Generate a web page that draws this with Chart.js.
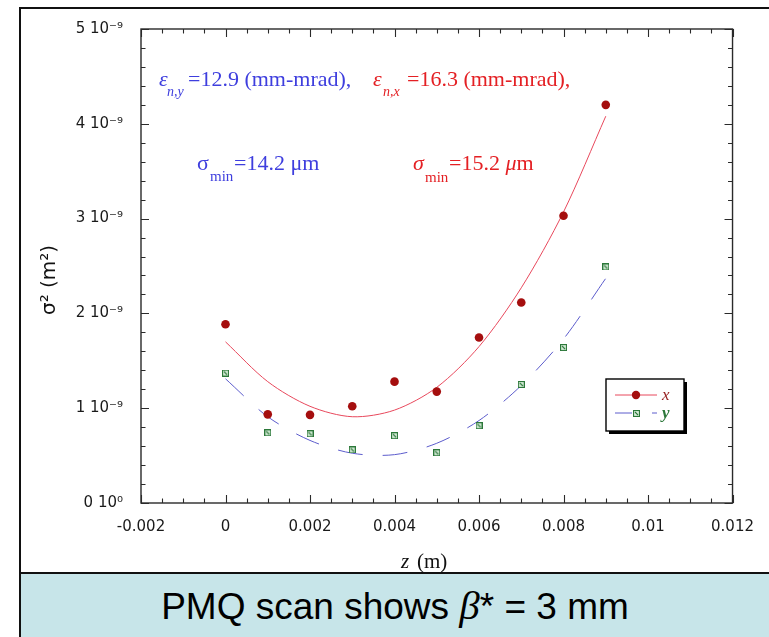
<!DOCTYPE html>
<html>
<head>
<meta charset="utf-8">
<title>PMQ scan</title>
<script src="https://cdn.jsdelivr.net/npm/chart.js@4.4.1/dist/chart.umd.min.js"></script>
<style>
  html, body { margin: 0; padding: 0; background: #fff; }
  body { width: 769px; height: 637px; position: relative; overflow: hidden; }
  #frame {
    position: absolute; left: 19px; top: 7px; width: 750px; height: 630px;
    border-top: 2px solid #111; border-left: 2px solid #111; box-sizing: border-box;
  }
  #plot { position: absolute; left: 0; top: 0; }
  #banner {
    position: absolute; left: 19px; top: 572px; width: 750px; height: 65px;
    box-sizing: border-box; border-top: 2px solid #111; border-left: 2px solid #111;
    background: #c7e5e9; color: #000;
    font-family: "Liberation Sans", Arial, sans-serif; font-size: 37px;
    text-align: center; line-height: 62px; white-space: nowrap;
  }
  #banner i { font-family: "Liberation Serif", serif; font-size: 41px; }
</style>
</head>
<body>
<div id="frame"></div>
<canvas id="plot" width="769" height="572"></canvas>
<div id="banner">PMQ scan shows <i>β</i>* = 3 mm</div>

<script>
'use strict';

//********************* Data (sigma^2 in units of 1e-9 m^2) *********************/

let zPos = [0, 0.001, 0.002, 0.003, 0.004, 0.005, 0.006, 0.007, 0.008, 0.009];
let sigmaSqX = [1.885, 0.935, 0.93, 1.02, 1.28, 1.175, 1.745, 2.115, 3.03, 4.20];
let sigmaSqY = [1.37, 0.74, 0.73, 0.56, 0.71, 0.53, 0.815, 1.25, 1.64, 2.49];

// fitted envelopes
let fitSqX = [1.70, 1.28, 1.02, 0.91, 0.98, 1.22, 1.65, 2.27, 3.07, 4.08];
let fitSqY = [1.31, 0.91, 0.66, 0.525, 0.51, 0.63, 0.87, 1.24, 1.73, 2.37];

let xTicks = [-0.002, 0, 0.002, 0.004, 0.006, 0.008, 0.01, 0.012];
let xTickLabels = ['-0.002', '0', '0.002', '0.004', '0.006', '0.008', '0.01', '0.012'];
let yTicks = [0, 1, 2, 3, 4, 5];
let yTickLabels = ['0 10\u2070', '1 10\u207B\u2079', '2 10\u207B\u2079', '3 10\u207B\u2079', '4 10\u207B\u2079', '5 10\u207B\u2079'];

//********************* Styles *********************/

const BLUE = 'rgb(62, 62, 222)';
const RED = 'rgb(228, 32, 36)';
const DOT_RED = 'rgb(165, 14, 14)';
const FIT_RED = 'rgb(232, 72, 92)';
const FIT_BLUE = 'rgb(92, 92, 204)';
const GREEN = 'rgb(44, 120, 58)';
const AXIS = '#2a2a2a';
const TICK_FONT = { family: '"DejaVu Sans", sans-serif', size: 15 };

function toPoints(xs, ys) {
  return xs.map((x, i) => ({ x: x, y: ys[i] }));
}

// small open square with a slash, used for the y points
function squareMarker() {
  let c = document.createElement('canvas');
  c.width = 7;
  c.height = 7;
  let g = c.getContext('2d');
  g.fillStyle = '#d9eedb';
  g.fillRect(0, 0, 7, 7);
  g.strokeStyle = GREEN;
  g.lineWidth = 1.1;
  g.strokeRect(0.55, 0.55, 5.9, 5.9);
  g.beginPath();
  g.moveTo(2, 2);
  g.lineTo(5, 5);
  g.stroke();
  return c;
}
let sqMarker = squareMarker();

//********************* Drawing helpers *********************/

function drawParts(ctx, parts) {
  for (let p of parts) {
    ctx.font = p.font;
    ctx.fillStyle = p.color;
    ctx.fillText(p.text, p.x, p.y);
  }
}

const serif = '"Liberation Serif", "Times New Roman", serif';

// ticks pointing inward on all four sides plus the box
const axisBox = {
  id: 'axisBox',
  afterDatasetsDraw(chart) {
    let { ctx, chartArea: a, scales } = chart;
    let xs = scales.x, ys = scales.y;
    ctx.save();
    ctx.strokeStyle = AXIS;
    ctx.lineWidth = 1.4;
    ctx.strokeRect(a.left, a.top, a.right - a.left, a.bottom - a.top);

    ctx.lineWidth = 1.1;
    ctx.beginPath();
    for (let i = 0; i <= 28; i++) {
      let v = -0.002 + i * 0.0005;
      let px = Math.round(xs.getPixelForValue(v)) + 0.5;
      let len = i % 4 === 0 ? 8 : 4.5;
      ctx.moveTo(px, a.bottom); ctx.lineTo(px, a.bottom - len);
      ctx.moveTo(px, a.top); ctx.lineTo(px, a.top + len);
    }
    for (let i = 0; i <= 25; i++) {
      let v = i * 0.2;
      let py = Math.round(ys.getPixelForValue(v)) + 0.5;
      let len = i % 5 === 0 ? 8 : 4.5;
      ctx.moveTo(a.left, py); ctx.lineTo(a.left + len, py);
      ctx.moveTo(a.right, py); ctx.lineTo(a.right - len, py);
    }
    ctx.stroke();
    ctx.restore();
  },
  afterDraw(chart) {
    let ctx = chart.ctx;
    ctx.save();
    ctx.textBaseline = 'alphabetic';
    ctx.textAlign = 'left';

    // emittance and waist annotations
    drawParts(ctx, [
      { text: '\u03B5', x: 159, y: 86, font: 'italic 22px ' + serif, color: BLUE },
      { text: 'n,y', x: 167, y: 96, font: 'italic 14px ' + serif, color: BLUE },
      { text: '=12.9 (mm-mrad),', x: 188, y: 86, font: '22px ' + serif, color: BLUE },
      { text: '\u03B5', x: 373, y: 86, font: 'italic 22px ' + serif, color: RED },
      { text: 'n,x', x: 383, y: 96, font: 'italic 14px ' + serif, color: RED },
      { text: '=16.3 (mm-mrad),', x: 407, y: 86, font: '22px ' + serif, color: RED },
      { text: '\u03C3', x: 197, y: 170, font: '22px ' + serif, color: BLUE },
      { text: 'min', x: 210, y: 181, font: '15px ' + serif, color: BLUE },
      { text: '=14.2 \u03BCm', x: 234, y: 170, font: '22px ' + serif, color: BLUE },
      { text: '\u03C3', x: 413, y: 170, font: 'italic 22px ' + serif, color: RED },
      { text: 'min', x: 425, y: 182, font: '15px ' + serif, color: RED },
      { text: '=15.2 ', x: 449, y: 170, font: '22px ' + serif, color: RED }
    ]);
    ctx.font = '22px ' + serif;
    let muX = 449 + ctx.measureText('=15.2 ').width;
    drawParts(ctx, [
      { text: '\u03BC', x: muX, y: 170, font: 'italic 22px ' + serif, color: RED }
    ]);
    ctx.font = 'italic 22px ' + serif;
    drawParts(ctx, [
      { text: 'm', x: muX + ctx.measureText('\u03BC').width, y: 170, font: '22px ' + serif, color: RED }
    ]);

    // axis titles
    drawParts(ctx, [
      { text: 'z', x: 401, y: 568, font: 'italic 21px ' + serif, color: '#111' },
      { text: '(m)', x: 417, y: 568, font: '21px ' + serif, color: '#111' }
    ]);
    ctx.save();
    ctx.translate(55, 315);
    ctx.rotate(-Math.PI / 2);
    ctx.font = '20px "DejaVu Sans", sans-serif';
    ctx.fillStyle = '#111';
    ctx.fillText('\u03C3\u00B2 (m\u00B2)', 0, 0);
    ctx.restore();

    // legend box with drop shadow
    let lx = 606, ly = 379, lw = 78, lh = 52;
    ctx.fillStyle = '#000';
    ctx.fillRect(lx + 3, ly + 3, lw, lh);
    ctx.fillStyle = '#fff';
    ctx.fillRect(lx, ly, lw, lh);
    ctx.strokeStyle = '#000';
    ctx.lineWidth = 1.4;
    ctx.strokeRect(lx, ly, lw, lh);

    ctx.lineWidth = 1;
    ctx.strokeStyle = FIT_RED;
    ctx.beginPath();
    ctx.moveTo(615, 395); ctx.lineTo(657, 395);
    ctx.stroke();
    ctx.fillStyle = DOT_RED;
    ctx.beginPath();
    ctx.arc(636, 395, 4.2, 0, Math.PI * 2);
    ctx.fill();

    ctx.strokeStyle = FIT_BLUE;
    ctx.setLineDash([17, 20]);
    ctx.beginPath();
    ctx.moveTo(615, 413); ctx.lineTo(657, 413);
    ctx.stroke();
    ctx.setLineDash([]);
    ctx.drawImage(sqMarker, 633, 410);

    drawParts(ctx, [
      { text: 'x', x: 662, y: 400, font: 'italic 17px ' + serif, color: 'rgb(150, 30, 30)' },
      { text: 'y', x: 662, y: 418, font: 'italic bold 17px ' + serif, color: GREEN }
    ]);
    ctx.restore();
  }
};

//********************* Chart *********************/

const ctx = document.getElementById('plot').getContext('2d');

const scanChart = new Chart(ctx, {
  type: 'scatter',
  data: {
    datasets: [
      {
        label: 'x',
        data: toPoints(zPos, sigmaSqX),
        pointStyle: 'circle',
        pointRadius: 4.3,
        backgroundColor: DOT_RED,
        borderColor: DOT_RED,
        borderWidth: 0,
        order: 0
      },
      {
        label: 'y',
        data: toPoints(zPos, sigmaSqY),
        pointStyle: sqMarker,
        order: 0
      },
      {
        label: 'x fit',
        data: toPoints(zPos, fitSqX),
        showLine: true,
        pointRadius: 0,
        borderColor: FIT_RED,
        borderWidth: 1,
        tension: 0.3,
        order: 1
      },
      {
        label: 'y fit',
        data: toPoints(zPos, fitSqY),
        showLine: true,
        pointRadius: 0,
        borderColor: FIT_BLUE,
        borderWidth: 1,
        borderDash: [25, 20],
        tension: 0.3,
        order: 1
      }
    ]
  },
  options: {
    responsive: false,
    animation: false,
    events: [],
    layout: { padding: { left: 0, top: 29, right: 24, bottom: 0 } },
    plugins: {
      legend: { display: false },
      tooltip: { enabled: false }
    },
    scales: {
      x: {
        type: 'linear',
        min: -0.002,
        max: 0.012,
        grid: { display: false, drawTicks: false },
        border: { display: false },
        afterBuildTicks: (scale) => { scale.ticks = xTicks.map(v => ({ value: v })); },
        afterFit: (scale) => { scale.height = 69; },
        ticks: {
          autoSkip: false,
          maxRotation: 0,
          padding: 15,
          color: '#1a1a1a',
          font: TICK_FONT,
          callback: (value, index) => xTickLabels[index]
        }
      },
      y: {
        type: 'linear',
        min: 0,
        max: 5,
        grid: { display: false, drawTicks: false },
        border: { display: false },
        afterBuildTicks: (scale) => { scale.ticks = yTicks.map(v => ({ value: v })); },
        afterFit: (scale) => { scale.width = 141; },
        ticks: {
          autoSkip: false,
          padding: 18,
          color: '#1a1a1a',
          font: TICK_FONT,
          callback: (value, index) => yTickLabels[index]
        }
      }
    }
  },
  plugins: [axisBox]
});
</script>
</body>
</html>
